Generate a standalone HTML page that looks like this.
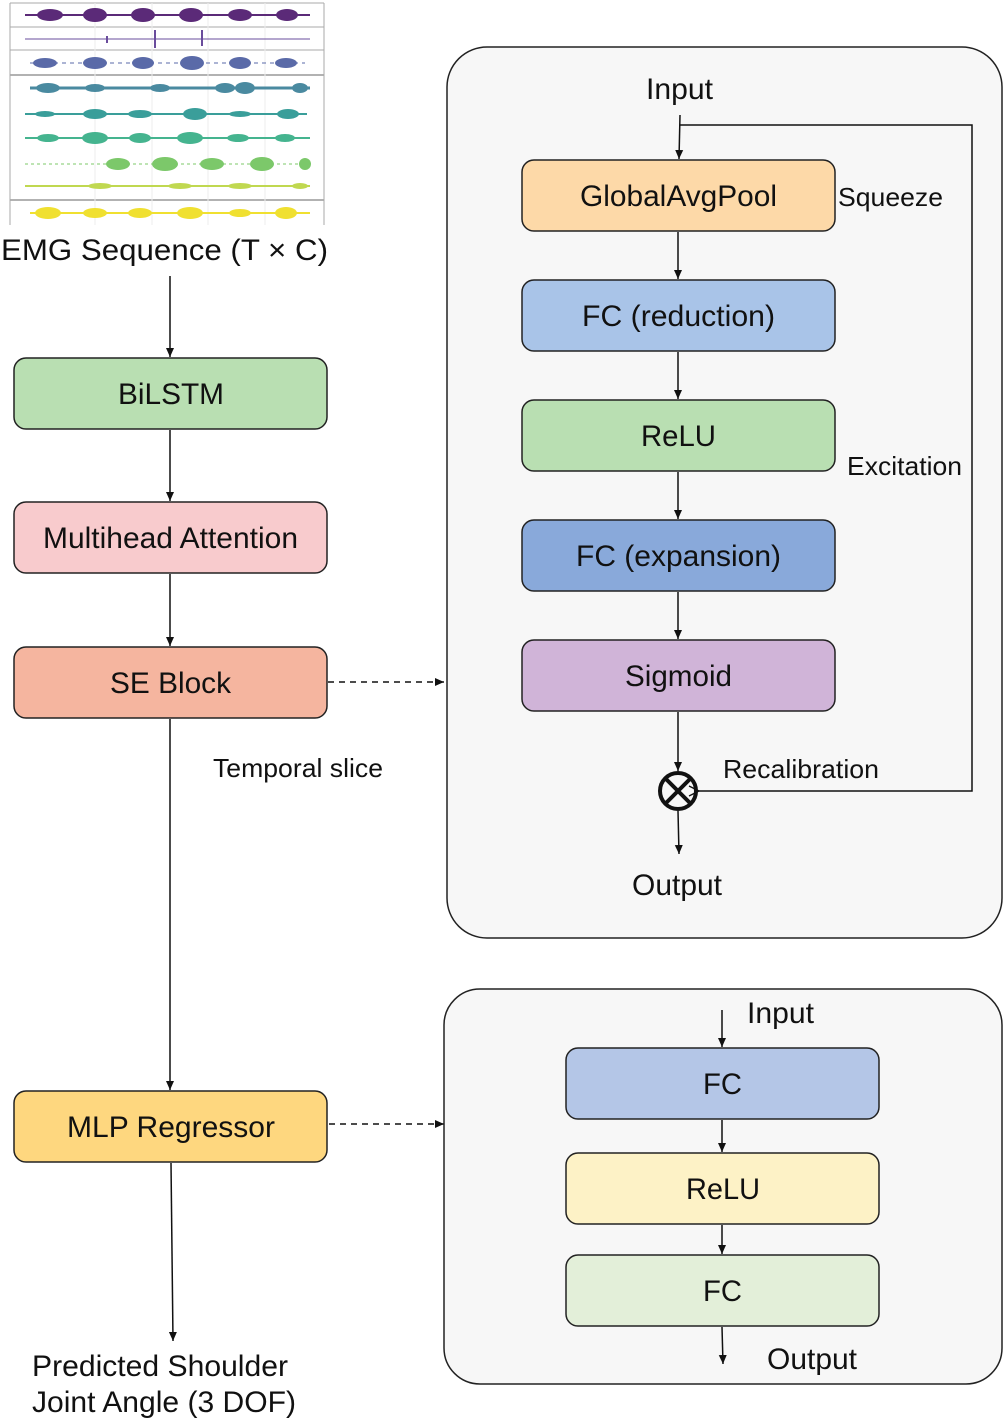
<!DOCTYPE html>
<html><head><meta charset="utf-8"><style>
html,body{margin:0;padding:0;background:#fff;}
svg{display:block;}
text{font-family:"Liberation Sans",Arial,sans-serif;fill:#111;}
</style></head><body>
<svg width="1006" height="1423" viewBox="0 0 1006 1423" xmlns="http://www.w3.org/2000/svg">
<defs>
<marker id="ar" markerWidth="10" markerHeight="10" refX="9" refY="5" orient="auto" markerUnits="userSpaceOnUse"><path d="M0,1 L9,5 L0,9 z" fill="#111"/></marker>
<marker id="oa" markerWidth="12" markerHeight="12" refX="1" refY="6" orient="auto" markerUnits="userSpaceOnUse"><path d="M11,1 L1,6 L11,11" fill="none" stroke="#111" stroke-width="1.3"/></marker>
</defs>
<g>
<rect x="10" y="3" width="314" height="222" fill="#fff"/>
<g stroke="#aaa" stroke-width="1">
<line x1="10" y1="3" x2="324" y2="3"/><line x1="10" y1="27" x2="324" y2="27"/><line x1="10" y1="50" x2="324" y2="50"/>
<line x1="10" y1="75" x2="324" y2="75" stroke="#666"/><line x1="10" y1="200" x2="324" y2="200" stroke="#666"/>
<line x1="10" y1="3" x2="10" y2="225"/><line x1="324" y1="3" x2="324" y2="225"/>
</g>
<g stroke="#eee"><line x1="95" y1="3" x2="95" y2="225"/><line x1="152" y1="3" x2="152" y2="225"/><line x1="208" y1="3" x2="208" y2="225"/><line x1="265" y1="3" x2="265" y2="225"/></g>
<line x1="25" y1="15" x2="310" y2="15" stroke="#5b2a78" stroke-width="2"/>
<g fill="#5b2a78"><ellipse cx="50" cy="15" rx="13" ry="6"/><ellipse cx="95" cy="15" rx="12" ry="7"/><ellipse cx="143" cy="15" rx="12" ry="7"/><ellipse cx="191" cy="15" rx="12" ry="7"/><ellipse cx="240" cy="15" rx="12" ry="6"/><ellipse cx="287" cy="15" rx="11" ry="6"/></g>
<line x1="25" y1="39" x2="310" y2="39" stroke="#6a4c9c" stroke-width="1"/>
<g stroke="#6a4c9c" stroke-width="2"><line x1="155" y1="30" x2="155" y2="48"/><line x1="202" y1="30" x2="202" y2="46"/><line x1="107" y1="36" x2="107" y2="43"/></g>
<line x1="30" y1="63" x2="305" y2="63" stroke="#5a6aa8" stroke-width="1" stroke-dasharray="4 4"/>
<g fill="#5a6aa8"><ellipse cx="45" cy="63" rx="12" ry="5"/><ellipse cx="95" cy="63" rx="12" ry="6"/><ellipse cx="143" cy="63" rx="11" ry="6"/><ellipse cx="192" cy="63" rx="12" ry="7"/><ellipse cx="240" cy="63" rx="11" ry="6"/><ellipse cx="286" cy="63" rx="11" ry="5"/></g>
<line x1="30" y1="88" x2="310" y2="88" stroke="#4a8aa0" stroke-width="3"/>
<g fill="#4a8aa0"><ellipse cx="48" cy="88" rx="12" ry="5"/><ellipse cx="95" cy="88" rx="10" ry="4"/><ellipse cx="160" cy="88" rx="10" ry="4"/><ellipse cx="225" cy="88" rx="10" ry="5"/><ellipse cx="245" cy="88" rx="10" ry="6"/><ellipse cx="300" cy="88" rx="8" ry="5"/></g>
<line x1="25" y1="114" x2="307" y2="114" stroke="#3a9e9a" stroke-width="2"/>
<g fill="#3a9e9a"><ellipse cx="45" cy="114" rx="10" ry="3"/><ellipse cx="95" cy="114" rx="12" ry="5"/><ellipse cx="140" cy="114" rx="12" ry="4"/><ellipse cx="195" cy="114" rx="12" ry="6"/><ellipse cx="240" cy="114" rx="11" ry="3"/><ellipse cx="288" cy="114" rx="11" ry="5"/></g>
<line x1="25" y1="138" x2="310" y2="138" stroke="#45b48f" stroke-width="2"/>
<g fill="#45b48f"><ellipse cx="48" cy="138" rx="11" ry="4"/><ellipse cx="95" cy="138" rx="13" ry="6"/><ellipse cx="140" cy="138" rx="11" ry="5"/><ellipse cx="190" cy="138" rx="13" ry="6"/><ellipse cx="238" cy="138" rx="11" ry="4"/><ellipse cx="285" cy="138" rx="10" ry="4"/></g>
<line x1="25" y1="164" x2="310" y2="164" stroke="#7cc86a" stroke-width="1" stroke-dasharray="3 3"/>
<g fill="#7cc86a"><ellipse cx="118" cy="164" rx="12" ry="6"/><ellipse cx="165" cy="164" rx="13" ry="7"/><ellipse cx="212" cy="164" rx="12" ry="6"/><ellipse cx="262" cy="164" rx="12" ry="7"/><ellipse cx="305" cy="164" rx="6" ry="6"/></g>
<line x1="25" y1="186" x2="310" y2="186" stroke="#c0d850" stroke-width="2"/>
<g fill="#c0d850"><ellipse cx="100" cy="186" rx="12" ry="3"/><ellipse cx="180" cy="186" rx="12" ry="3"/><ellipse cx="240" cy="186" rx="12" ry="3"/><ellipse cx="300" cy="186" rx="8" ry="3"/></g>
<line x1="30" y1="213" x2="310" y2="213" stroke="#f0e030" stroke-width="2"/>
<g fill="#f0e030"><ellipse cx="48" cy="213" rx="13" ry="6"/><ellipse cx="95" cy="213" rx="12" ry="5"/><ellipse cx="140" cy="213" rx="12" ry="5"/><ellipse cx="190" cy="213" rx="13" ry="6"/><ellipse cx="240" cy="213" rx="11" ry="4"/><ellipse cx="286" cy="213" rx="11" ry="6"/></g>
</g>
<text x="1" y="260" font-size="30" textLength="327" lengthAdjust="spacingAndGlyphs">EMG Sequence (T × C)</text>

<g stroke="#111" stroke-width="1.5" fill="none">
<line x1="170" y1="276" x2="170" y2="357" marker-end="url(#ar)"/>
<line x1="170" y1="430" x2="170" y2="501" marker-end="url(#ar)"/>
<line x1="170" y1="574" x2="170" y2="646" marker-end="url(#ar)"/>
<line x1="170" y1="719" x2="170" y2="1090" marker-end="url(#ar)"/>
<line x1="171" y1="1163" x2="173" y2="1341" marker-end="url(#ar)"/>
<line x1="328" y1="682" x2="444" y2="682" stroke-dasharray="6 5" marker-end="url(#ar)"/>
<line x1="329" y1="1124" x2="444" y2="1124" stroke-dasharray="6 5" marker-end="url(#ar)"/>
</g>
<g stroke="#222" stroke-width="1.5">
<rect x="14" y="358" width="313" height="71" rx="12" fill="#b9dfb2"/>
<rect x="14" y="502" width="313" height="71" rx="12" fill="#f8cbcd"/>
<rect x="14" y="647" width="313" height="71" rx="12" fill="#f5b59f"/>
<rect x="14" y="1091" width="313" height="71" rx="12" fill="#fed77f"/>
</g>
<g font-size="30" lengthAdjust="spacingAndGlyphs">
<text x="118" y="404" textLength="106" lengthAdjust="spacingAndGlyphs">BiLSTM</text>
<text x="43" y="548" textLength="255" lengthAdjust="spacingAndGlyphs">Multihead Attention</text>
<text x="110" y="693" textLength="121" lengthAdjust="spacingAndGlyphs">SE Block</text>
<text x="67" y="1137" textLength="208" lengthAdjust="spacingAndGlyphs">MLP Regressor</text>
</g>
<text x="213" y="777" font-size="26" textLength="170" lengthAdjust="spacingAndGlyphs">Temporal slice</text>
<text x="32" y="1376" font-size="30" textLength="256" lengthAdjust="spacingAndGlyphs">Predicted Shoulder</text>
<text x="32" y="1412" font-size="30" textLength="264" lengthAdjust="spacingAndGlyphs">Joint Angle (3 DOF)</text>

<rect x="447" y="47" width="555" height="891" rx="40" fill="#f7f7f7" stroke="#222" stroke-width="1.5"/>
<text x="646" y="99" font-size="30" textLength="67" lengthAdjust="spacingAndGlyphs">Input</text>
<g stroke="#111" stroke-width="1.5" fill="none">
<line x1="680" y1="115" x2="679" y2="159" marker-end="url(#ar)"/>
<polyline points="680,125 972,125 972,791 699,791" marker-end="url(#oa)"/>
<line x1="678" y1="232" x2="678" y2="279" marker-end="url(#ar)"/>
<line x1="678" y1="352" x2="678" y2="399" marker-end="url(#ar)"/>
<line x1="678" y1="472" x2="678" y2="519" marker-end="url(#ar)"/>
<line x1="678" y1="592" x2="678" y2="639" marker-end="url(#ar)"/>
<line x1="678" y1="712" x2="678" y2="771" marker-end="url(#ar)"/>
<line x1="678" y1="811" x2="679" y2="854" marker-end="url(#ar)"/>
</g>
<g stroke="#111" stroke-width="4" fill="none">
<circle cx="678" cy="791" r="18"/>
<line x1="665" y1="778" x2="691" y2="804"/><line x1="691" y1="778" x2="665" y2="804"/>
</g>
<g stroke="#222" stroke-width="1.5">
<rect x="522" y="160" width="313" height="71" rx="12" fill="#fdd9a8"/>
<rect x="522" y="280" width="313" height="71" rx="12" fill="#a9c4e8"/>
<rect x="522" y="400" width="313" height="71" rx="12" fill="#b9dfb2"/>
<rect x="522" y="520" width="313" height="71" rx="12" fill="#89a9da"/>
<rect x="522" y="640" width="313" height="71" rx="12" fill="#d0b4d8"/>
</g>
<g font-size="30">
<text x="580" y="206" textLength="197" lengthAdjust="spacingAndGlyphs">GlobalAvgPool</text>
<text x="582" y="326" textLength="193" lengthAdjust="spacingAndGlyphs">FC (reduction)</text>
<text x="641" y="446" textLength="75" lengthAdjust="spacingAndGlyphs">ReLU</text>
<text x="576" y="566" textLength="205" lengthAdjust="spacingAndGlyphs">FC (expansion)</text>
<text x="625" y="686" textLength="107" lengthAdjust="spacingAndGlyphs">Sigmoid</text>
</g>
<text x="838" y="206" font-size="26" textLength="105" lengthAdjust="spacingAndGlyphs">Squeeze</text>
<text x="847" y="475" font-size="26" textLength="115" lengthAdjust="spacingAndGlyphs">Excitation</text>
<text x="723" y="778" font-size="26" textLength="156" lengthAdjust="spacingAndGlyphs">Recalibration</text>
<text x="632" y="895" font-size="30" textLength="90" lengthAdjust="spacingAndGlyphs">Output</text>

<rect x="444" y="989" width="558" height="395" rx="36" fill="#f7f7f7" stroke="#222" stroke-width="1.5"/>
<text x="747" y="1023" font-size="30" textLength="67" lengthAdjust="spacingAndGlyphs">Input</text>
<g stroke="#111" stroke-width="1.5" fill="none">
<line x1="722" y1="1010" x2="722" y2="1047" marker-end="url(#ar)"/>
<line x1="722" y1="1120" x2="722" y2="1152" marker-end="url(#ar)"/>
<line x1="722" y1="1225" x2="722" y2="1254" marker-end="url(#ar)"/>
<line x1="722" y1="1327" x2="723" y2="1364" marker-end="url(#ar)"/>
</g>
<g stroke="#222" stroke-width="1.5">
<rect x="566" y="1048" width="313" height="71" rx="12" fill="#b4c6e7"/>
<rect x="566" y="1153" width="313" height="71" rx="12" fill="#fdf2c6"/>
<rect x="566" y="1255" width="313" height="71" rx="12" fill="#e3efd9"/>
</g>
<g font-size="30">
<text x="703" y="1094" textLength="39" lengthAdjust="spacingAndGlyphs">FC</text>
<text x="686" y="1199" textLength="74" lengthAdjust="spacingAndGlyphs">ReLU</text>
<text x="703" y="1301" textLength="39" lengthAdjust="spacingAndGlyphs">FC</text>
</g>
<text x="767" y="1369" font-size="30" textLength="90" lengthAdjust="spacingAndGlyphs">Output</text>
</svg>
</body></html>
